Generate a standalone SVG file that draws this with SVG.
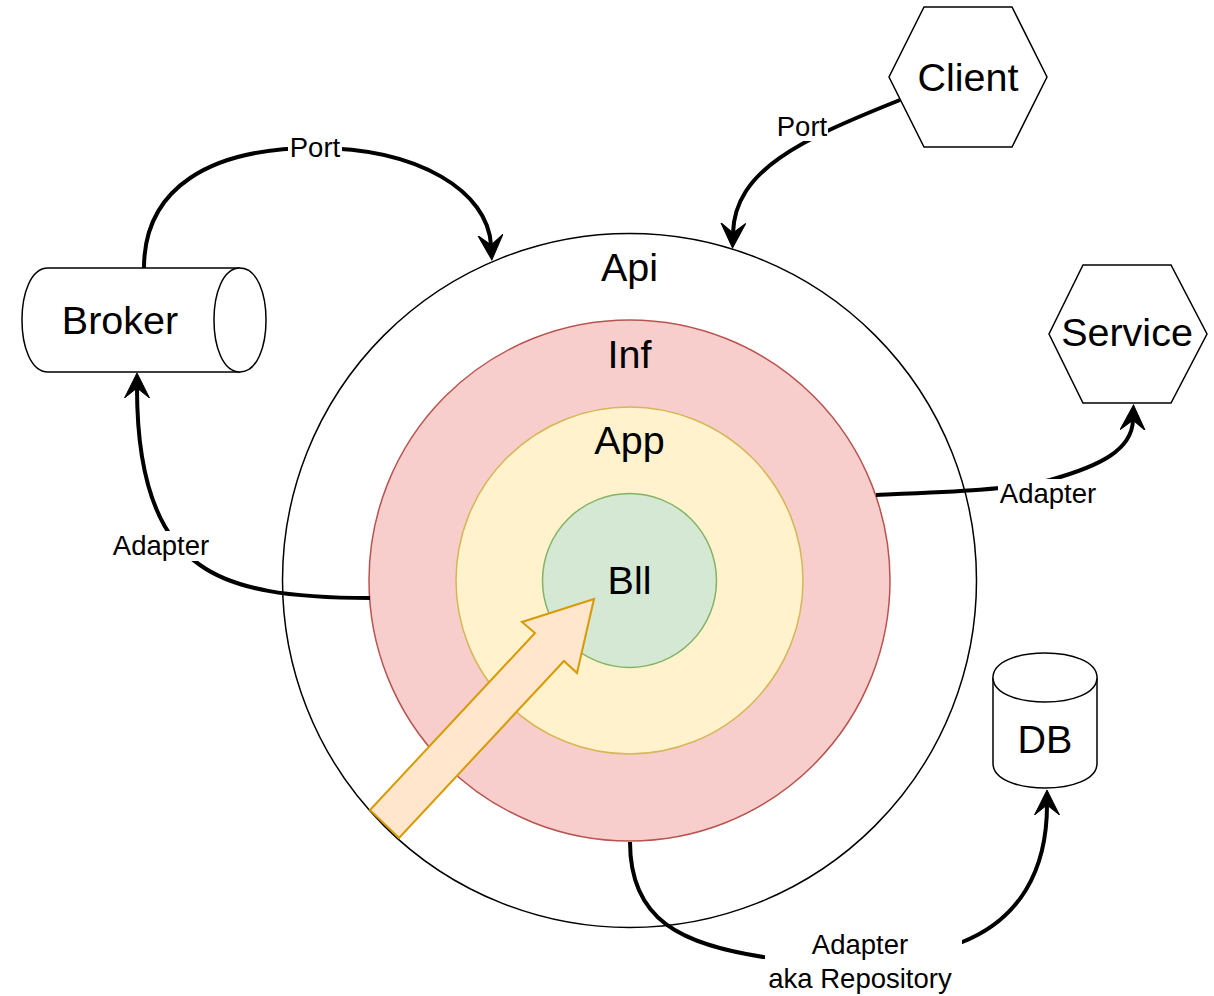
<svg xmlns="http://www.w3.org/2000/svg" width="1214" height="996" viewBox="0 0 1214 996">
<style>
  .node { fill: #ffffff; stroke: #000000; stroke-width: 1.5; }
  .big { font-family: "Liberation Sans", Arial, sans-serif; font-size: 39.5px; fill: #000; text-anchor: middle; }
  .lbl { font-family: "Liberation Sans", Arial, sans-serif; font-size: 27.5px; fill: #000; text-anchor: middle; }
  .lblbg { fill: #ffffff; stroke: none; }
  .edge { fill: none; stroke: #000; stroke-width: 4; marker-end: url(#arr); }
</style>
<defs>
  <marker id="arr" markerUnits="userSpaceOnUse" markerWidth="26" markerHeight="26" viewBox="0 0 26 26" refX="10" refY="13" orient="auto">
    <path d="M0,0.5 L25,13 L0,25.5 L10,13 Z" fill="#000" stroke="#000" stroke-width="1"/>
  </marker>
</defs>
<rect x="0" y="0" width="1214" height="996" fill="#ffffff"/>

<g id="api">
  <circle cx="629.5" cy="580.5" r="347" fill="#ffffff" stroke="#000" stroke-width="1.5"/>
  <text class="big" x="629.5" y="281">Api</text>
</g>
<g id="inf">
  <circle cx="629.5" cy="580.5" r="260.5" fill="#f8cecc" stroke="#b85450" stroke-width="1.5"/>
  <text class="big" x="629.5" y="368">Inf</text>
</g>
<g id="app">
  <circle cx="629.5" cy="580.5" r="173.5" fill="#fff2cc" stroke="#d6b656" stroke-width="1.5"/>
  <text class="big" x="629.5" y="454">App</text>
</g>
<g id="bll">
  <circle cx="629.5" cy="580.5" r="87" fill="#d5e8d4" stroke="#82b366" stroke-width="1.5"/>
  <text class="big" x="629.5" y="594">Bll</text>
</g>

<g id="broker">
  <path class="node" d="M48,268 L240,268 C274.7,268 274.7,372 240,372 L48,372 C13.3,372 13.3,268 48,268 Z"/>
  <path class="node" fill="none" d="M240,268 C205.3,268 205.3,372 240,372"/>
  <text class="big" x="120" y="334">Broker</text>
</g>
<g id="client">
  <polygon class="node" points="924,7 1012,7 1047,77 1012,147 924,147 889,77"/>
  <text class="big" x="968" y="91">Client</text>
</g>
<g id="service">
  <polygon class="node" points="1083,265 1171,265 1207,334 1171,403 1083,403 1049,334"/>
  <text class="big" x="1127" y="346">Service</text>
</g>
<g id="db">
  <path class="node" d="M993,677.5 C993,644.8 1097,644.8 1097,677.5 L1097,763.5 C1097,796.2 993,796.2 993,763.5 Z"/>
  <path class="node" fill="none" d="M993,677.5 C993,710.2 1097,710.2 1097,677.5"/>
  <text class="big" x="1045" y="753">DB</text>
</g>

<g id="flow-arrow">
  <polygon points="370,810 535,633 522,622 594,599 577,673 564,661 399,838" fill="#ffe6cc" stroke="#d79b00" stroke-width="2" stroke-linejoin="miter"/>
</g>

<g id="connectors">
  <g id="e-broker-api">
    <path class="edge" d="M144,268 C144,188 210,148 315,148 C420,148 488,192 491,245"/>
    <rect class="lblbg" x="288" y="134" width="54" height="28"/>
    <text class="lbl" x="315" y="157">Port</text>
  </g>
  <g id="e-client-api">
    <path class="edge" d="M900,100 C800,140 735,170 733,233"/>
    <rect class="lblbg" x="776" y="111" width="52" height="30"/>
    <text class="lbl" x="802" y="136">Port</text>
  </g>
  <g id="e-inf-service">
    <path class="edge" d="M876,495 C950,492 1010,490 1050,480 C1100,466 1132,450 1133,420"/>
    <rect class="lblbg" x="998" y="479" width="100" height="30"/>
    <text class="lbl" x="1048" y="503">Adapter</text>
  </g>
  <g id="e-inf-broker">
    <path class="edge" d="M370,598 C290,598 235,590 200,565 C155,535 137,470 137,388"/>
    <rect class="lblbg" x="110" y="531" width="102" height="30"/>
    <text class="lbl" x="161" y="555">Adapter</text>
  </g>
  <g id="e-inf-db">
    <path class="edge" d="M630,842 C630,920 680,945 770,958 L960,943 C1020,920 1047,870 1047,805"/>
    <rect class="lblbg" x="765" y="929" width="197" height="66"/>
    <text class="lbl" x="860" y="954">Adapter</text>
    <text class="lbl" x="860" y="988">aka Repository</text>
  </g>
</g>
</svg>
